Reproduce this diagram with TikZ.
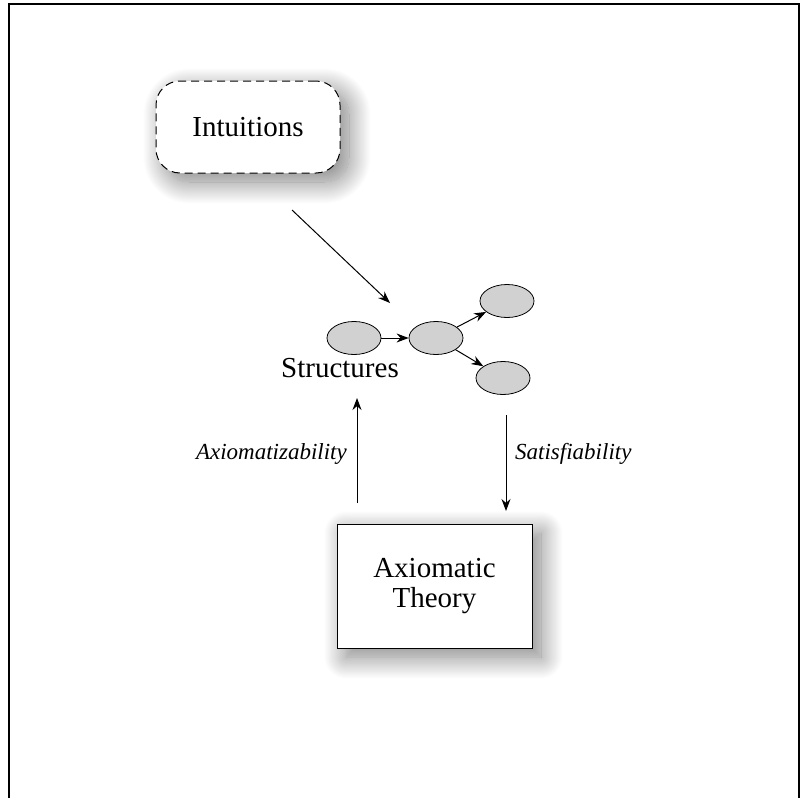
\documentclass[tikz,border=0pt]{standalone}
\usepackage{fontspec}
\setmainfont{Liberation Serif}
\usetikzlibrary{arrows.meta,shadows.blur,shapes.geometric}
\begin{document}
\begin{tikzpicture}[x=1pt,y=-1pt,
  boxshadow/.style={blur shadow={shadow xshift=9pt,shadow yshift=-9pt,shadow blur radius=22pt,shadow blur steps=25,shadow opacity=50}},
  roundbox/.style={draw,dash pattern=on 8pt off 5pt,line width=1pt,rounded corners=24pt,fill=white,minimum width=184pt,minimum height=92pt,inner sep=0pt,boxshadow,font=\fontsize{29}{32}\selectfont},
  thbox/.style={draw,line width=1pt,fill=white,minimum width=195pt,minimum height=124pt,inner sep=0pt,boxshadow,align=center,font=\fontsize{29}{30}\selectfont},
  blob/.style={ellipse,draw,line width=0.8pt,fill=black!18,minimum width=54pt,minimum height=33pt,inner sep=0pt},
  arr/.style={line width=1pt,-{Stealth[length=12pt,width=9pt]}},
  lab/.style={font=\fontsize{23}{26}\selectfont\itshape,inner sep=0pt},
  big/.style={font=\fontsize{29}{32}\selectfont,inner sep=0pt}]
\useasboundingbox (0,0) rectangle (805,798);
% frame
\draw[line width=1.3pt] (9,798) -- (9,4) -- (799,4) -- (799,798);
\node[roundbox] (intu) at (248,127) {Intuitions};
\node[thbox] (theory) at (434.5,586) {Axiomatic\\Theory};
\node[blob] (e1) at (354,338) {};
\node[blob] (e2) at (436,338) {};
\node[blob] (e3) at (507,301) {};
\node[blob] (e4) at (503,378) {};
\node[big,anchor=base east] (struct) at (399,377) {Structures};
\coordinate (s1) at (292,210);
\coordinate (t1) at (390,303);
\draw[arr] (s1) -- (t1);
\draw[arr] (e1) -- (e2);
\draw[arr] (e2) -- (e3);
\draw[arr] (e2) -- (e4);
\coordinate (upS) at (357,503);
\coordinate (upT) at (357,398);
\draw[arr] (upS) -- (upT);
\coordinate (dnS) at (506,415);
\coordinate (dnT) at (506,511);
\draw[arr] (dnS) -- (dnT);
\node[lab,anchor=base east] (axl) at (347,459) {Axiomatizability};
\node[lab,anchor=base west] (satl) at (515,459) {Satisfiability};
\end{tikzpicture}
\end{document}
